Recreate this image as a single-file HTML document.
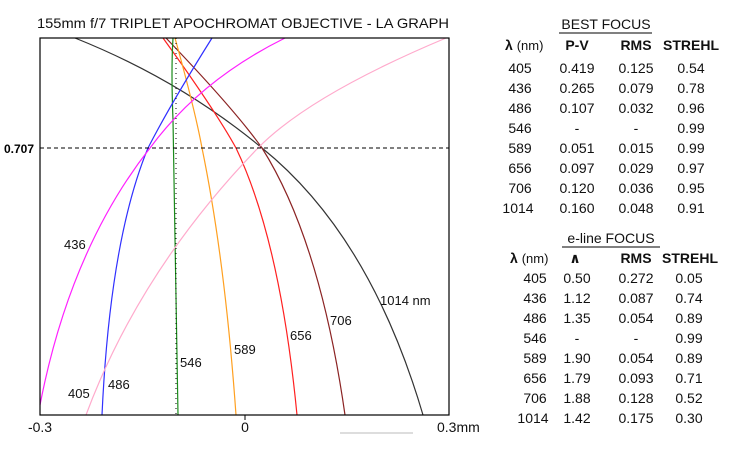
<!DOCTYPE html>
<html><head><meta charset="utf-8"><style>
body{margin:0;background:#fff;}
svg{display:block;font-family:"Liberation Sans","DejaVu Sans",sans-serif;}
</style></head><body>
<svg width="732" height="458" viewBox="0 0 732 458" xmlns="http://www.w3.org/2000/svg">
<rect width="732" height="458" fill="#fff"/>
<text x="37" y="28" font-size="14" textLength="412" lengthAdjust="spacingAndGlyphs" fill="#111">155mm  f/7 TRIPLET APOCHROMAT OBJECTIVE  - LA GRAPH</text>
<g fill="none" stroke-width="1.2">
<path d="M75,38 Q180,80 262,148 Q370,235 423,415" stroke="#333"/>
<path d="M166,38 Q235,110 262,148 Q320,240 345,415" stroke="#8b2323"/>
<path d="M163,38 Q215,110 236,148 Q280,240 297,415" stroke="#ff2020"/>
<path d="M175,38 Q195,110 202,148 Q225,260 236,415" stroke="#ffa020"/>
<path d="M173,38 Q171,70 173,120 L178,415" stroke="#1a8a1a"/>
<path d="M212,38 Q170,105 148,148 Q110,240 102,415" stroke="#3030ff"/>
<path d="M285,38 Q200,80 150,148 Q70,250 40,405" stroke="#ff20ff"/>
<path d="M446,38 Q310,95 258,148 Q140,270 86,415" stroke="#ffaacc"/>
</g>
<line x1="176" y1="38" x2="176" y2="415" stroke="#000" stroke-dasharray="1,4"/>
<line x1="40" y1="148" x2="449" y2="148" stroke="#000" stroke-dasharray="4,3"/>
<rect x="40" y="38" width="409" height="377" fill="none" stroke="#000" stroke-width="1.2"/>
<line x1="245" y1="415" x2="245" y2="420" stroke="#000"/>
<text x="4" y="153" font-size="12" font-weight="bold">0.707</text>
<g font-size="13" fill="#111">
<text x="64" y="249">436</text>
<text x="380" y="305">1014 nm</text>
<text x="330" y="325">706</text>
<text x="290" y="340">656</text>
<text x="234" y="354">589</text>
<text x="180" y="367">546</text>
<text x="108" y="389">486</text>
<text x="68" y="398">405</text>
</g>
<g font-size="14" fill="#111">
<text x="40" y="432" text-anchor="middle">-0.3</text>
<text x="245" y="432" text-anchor="middle">0</text>
<text x="437" y="432">0.3mm</text>
</g>
<line x1="340" y1="433" x2="413" y2="433" stroke="#ddd" stroke-width="2"/>
<g font-size="14" fill="#111">
<text x="606" y="29" text-anchor="middle">BEST FOCUS</text>
<line x1="559" y1="33" x2="652" y2="33" stroke="#000"/>
<text x="505" y="50" font-weight="bold">λ <tspan font-weight="normal" font-size="13">(nm)</tspan></text>
<text x="577" y="50" text-anchor="middle" font-weight="bold">P-V</text>
<text x="636" y="50" text-anchor="middle" font-weight="bold">RMS</text>
<text x="691" y="50" text-anchor="middle" font-weight="bold">STREHL</text>
<g text-anchor="middle">
<text x="520" y="73">405</text><text x="577" y="73">0.419</text><text x="636" y="73">0.125</text><text x="691" y="73">0.54</text>
<text x="520" y="93">436</text><text x="577" y="93">0.265</text><text x="636" y="93">0.079</text><text x="691" y="93">0.78</text>
<text x="520" y="113">486</text><text x="577" y="113">0.107</text><text x="636" y="113">0.032</text><text x="691" y="113">0.96</text>
<text x="520" y="133">546</text><text x="577" y="133">-</text><text x="636" y="133">-</text><text x="691" y="133">0.99</text>
<text x="520" y="153">589</text><text x="577" y="153">0.051</text><text x="636" y="153">0.015</text><text x="691" y="153">0.99</text>
<text x="520" y="173">656</text><text x="577" y="173">0.097</text><text x="636" y="173">0.029</text><text x="691" y="173">0.97</text>
<text x="520" y="193">706</text><text x="577" y="193">0.120</text><text x="636" y="193">0.036</text><text x="691" y="193">0.95</text>
<text x="518" y="213">1014</text><text x="577" y="213">0.160</text><text x="636" y="213">0.048</text><text x="691" y="213">0.91</text>
</g>
<text x="611" y="243" text-anchor="middle">e-line FOCUS</text>
<line x1="562" y1="247" x2="660" y2="247" stroke="#000"/>
<text x="510" y="263" font-weight="bold">λ <tspan font-weight="normal" font-size="13">(nm)</tspan></text>
<text x="575" y="263" text-anchor="middle" font-weight="bold">∧</text>
<text x="636" y="263" text-anchor="middle" font-weight="bold">RMS</text>
<text x="690" y="263" text-anchor="middle" font-weight="bold">STREHL</text>
<g text-anchor="middle">
<text x="535" y="283">405</text><text x="577" y="283">0.50</text><text x="636" y="283">0.272</text><text x="689" y="283">0.05</text>
<text x="535" y="303">436</text><text x="577" y="303">1.12</text><text x="636" y="303">0.087</text><text x="689" y="303">0.74</text>
<text x="535" y="323">486</text><text x="577" y="323">1.35</text><text x="636" y="323">0.054</text><text x="689" y="323">0.89</text>
<text x="535" y="343">546</text><text x="577" y="343">-</text><text x="636" y="343">-</text><text x="689" y="343">0.99</text>
<text x="535" y="363">589</text><text x="577" y="363">1.90</text><text x="636" y="363">0.054</text><text x="689" y="363">0.89</text>
<text x="535" y="383">656</text><text x="577" y="383">1.79</text><text x="636" y="383">0.093</text><text x="689" y="383">0.71</text>
<text x="535" y="403">706</text><text x="577" y="403">1.88</text><text x="636" y="403">0.128</text><text x="689" y="403">0.52</text>
<text x="533" y="423">1014</text><text x="577" y="423">1.42</text><text x="636" y="423">0.175</text><text x="689" y="423">0.30</text>
</g>
</g>
</svg>
</body></html>
